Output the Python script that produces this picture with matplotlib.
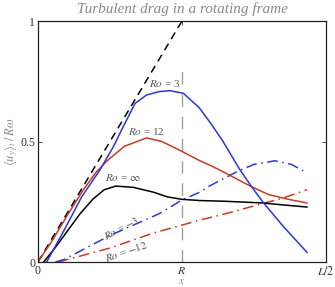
import matplotlib
matplotlib.use("Agg")
import matplotlib.pyplot as plt
import numpy as np

plt.rcParams['font.family'] = ['Liberation Serif', 'DejaVu Serif']
plt.rcParams['mathtext.fontset'] = 'stix'

# x in units of L/2 (R = 0.5)
x_ro3 = [0.03, 0.09, 0.152, 0.215, 0.262, 0.296, 0.337, 0.377, 0.42, 0.458, 0.505, 0.56, 0.60, 0.64, 0.70, 0.742, 0.78, 0.85, 0.934]
y_ro3 = [0.0, 0.13, 0.271, 0.382, 0.479, 0.562, 0.658, 0.693, 0.707, 0.711, 0.70, 0.64, 0.575, 0.505, 0.385, 0.312, 0.25, 0.15, 0.04]

x_ro12 = [0.0, 0.05, 0.10, 0.157, 0.20, 0.24, 0.30, 0.377, 0.43, 0.49, 0.5625, 0.60, 0.65, 0.742, 0.80, 0.87, 0.934]
y_ro12 = [0.0, 0.09, 0.19, 0.299, 0.37, 0.42, 0.48, 0.515, 0.50, 0.465, 0.42, 0.40, 0.37, 0.312, 0.28, 0.26, 0.245]

x_inf = [0.02, 0.06, 0.10, 0.146, 0.19, 0.23, 0.27, 0.33, 0.40, 0.45, 0.50, 0.5625, 0.65, 0.78, 0.85, 0.934]
y_inf = [0.0, 0.06, 0.125, 0.20, 0.26, 0.30, 0.315, 0.31, 0.29, 0.27, 0.26, 0.255, 0.252, 0.245, 0.237, 0.228]

x_rom3 = [0.06, 0.09, 0.25, 0.42, 0.50, 0.5625, 0.587, 0.667, 0.70, 0.75, 0.823, 0.88, 0.934]
y_rom3 = [0.0, 0.01, 0.11, 0.20, 0.257, 0.29, 0.31, 0.36, 0.38, 0.405, 0.42, 0.405, 0.37]

x_rom12 = [0.07, 0.25, 0.40, 0.5625, 0.65, 0.736, 0.85, 0.934]
y_rom12 = [0.0, 0.058, 0.12, 0.174, 0.20, 0.228, 0.265, 0.30]

x_inviscid = [0.0, 0.5]
y_inviscid = [0.0, 1.0]

blue = '#2b38d8'
red = '#c93a25'
gray = '#8a8a8a'

fig = plt.figure(figsize=(3.35, 2.87), dpi=100)
ax = fig.add_axes([0.1134, 0.0871, 0.8597, 0.8397])

ax.plot([0.5, 0.5], [0.0, 0.83], color='#a0a0a0', lw=1.0, dashes=(9, 7))
ax.plot(x_inviscid, y_inviscid, color='k', lw=1.1, dashes=(5, 3.5))
ax.plot(x_rom12, y_rom12, color=red, lw=1.1, dashes=(7, 3, 1, 3))
ax.plot(x_rom3, y_rom3, color=blue, lw=1.1, dashes=(7, 3, 1, 3))
ax.plot(x_inf, y_inf, color='k', lw=1.1)
ax.plot(x_ro12, y_ro12, color=red, lw=1.1)
ax.plot(x_ro3, y_ro3, color=blue, lw=1.1)

tk = dict(color='#555555', fontsize=8)
ax.text(0.44, 0.74, r'$Ro$ = 3', ha='center', va='center', **tk)
ax.text(0.378, 0.54, r'$Ro$ = 12', ha='center', va='center', **tk)
ax.text(0.295, 0.35, r'$Ro$ = $\infty$', ha='center', va='center', **tk)
ax.text(0.29, 0.14, r'$Ro$ = $-3$', ha='center', va='center', rotation=28, **tk)
ax.text(0.308, 0.045, r'$Ro$ = $-12$', ha='center', va='center', rotation=19, **tk)

ax.set_xlim(0, 1)
ax.set_ylim(0, 1)
ax.set_xticks([0, 0.5, 1])
ax.set_xticklabels(['0', '$R$', '$L/2$'])
ax.set_yticks([0, 0.5, 1])
ax.set_yticklabels(['0', '0.5', '1'])
ax.tick_params(direction='in', length=3, width=0.6, labelsize=8.5, colors='#333333',
               top=True, right=True, pad=2)
for s in ax.spines.values():
    s.set_linewidth(0.9)
    s.set_color('#222222')

ax.set_xlabel('$x$', fontsize=8, color=gray, labelpad=-0.5)
ax.set_ylabel(r'$\langle u_y\rangle_t\,/\,R\omega$', fontsize=9, color=gray, labelpad=0)
ax.set_title('Turbulent drag in a rotating frame', fontsize=11, style='italic', color=gray, pad=5.5)

fig.savefig('out.png', dpi=100)
